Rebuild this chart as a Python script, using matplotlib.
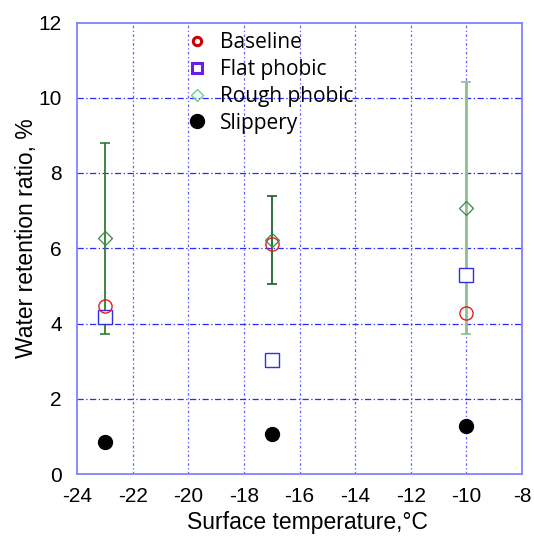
import numpy as np
import matplotlib.pyplot as plt
from matplotlib.lines import Line2D

temps = [-23, -17, -10]
baseline = [4.47, 6.12, 4.29]
flat_phobic = [4.18, 3.03, 5.29]
rough_phobic = [6.27, 6.22, 7.08]
rough_low = [3.72, 5.06, 3.72]
rough_high = [8.79, 7.40, 10.42]
slippery = [0.85, 1.06, 1.28]

plt.rcParams['font.family'] = ['Liberation Sans', 'DejaVu Sans']
plt.rcParams['axes.unicode_minus'] = False

fig = plt.figure(figsize=(5.34, 5.38), dpi=100)
ax = fig.add_axes([77 / 534, 1 - 474 / 538, 445 / 534, 451.5 / 538])

grid_c = '#2a2aff'
for yv in range(2, 12, 2):
    ax.axhline(yv, color=grid_c, lw=0.9, ls=(0, (5, 2, 1, 2)), zorder=0)
for xv in range(-22, -8, 2):
    ax.axvline(xv, color=grid_c, lw=0.9, ls=(0, (2, 2, 1, 2)), alpha=0.75, zorder=0)

# error bars on rough phobic, each a little different green
err_cols = ['#2e7d32', '#1f5f2a', '#8fbf8f']
for i, t in enumerate(temps):
    ax.errorbar([t], [rough_phobic[i]],
                yerr=[[rough_phobic[i] - rough_low[i]], [rough_high[i] - rough_phobic[i]]],
                fmt='none', ecolor=err_cols[i], elinewidth=1.3 if i < 2 else 2,
                capsize=3.5, capthick=1.2, zorder=2)

ax.plot(temps, slippery, 'o', color='black', ms=10, zorder=3)
ax.plot(temps, flat_phobic, 's', mfc='white', mec='#3030e0', mew=1.0, ms=9.5, zorder=3)
ax.plot(temps, baseline, 'o', mfc='none', mec='#e02020', mew=1.0, ms=9.5, zorder=4)
ax.plot(temps, rough_phobic, 'D', mfc='none', mec='#3a8a4a', mew=0.9, ms=7.5, zorder=5)

ax.set_xlim(-24, -8)
ax.set_ylim(0, 12)
ax.set_xticks(np.arange(-24, -7, 2))
ax.set_yticks(np.arange(0, 13, 2))
ax.tick_params(axis='x', length=0, labelsize=15, pad=9)
ax.tick_params(axis='y', length=0, labelsize=15, pad=11)
for s in ax.spines.values():
    s.set_color('#8080ff')
    s.set_linewidth(1.3)

ax.set_xlabel('Surface temperature,°C', fontsize=16.5)
ax.set_ylabel('Water retention ratio, %', fontsize=16.5)
ax.xaxis.set_label_coords(0.518, -0.083)
ax.yaxis.set_label_coords(-0.088, 0.523)

handles = [
    Line2D([], [], ls='none', marker='o', mfc='none', mec='#cc0000', mew=2.2, ms=6),
    Line2D([], [], ls='none', marker='s', mfc='none', mec='#6a1ee8', mew=2.2, ms=7),
    Line2D([], [], ls='none', marker='D', mfc='none', mec='#6ad08a', mew=1.0, ms=6),
    Line2D([], [], ls='none', marker='o', color='black', ms=10),
]
labels = ['Baseline', 'Flat phobic', 'Rough phobic', 'Slippery']
ax.legend(handles, labels, loc='upper left', bbox_to_anchor=(0.19, 1.02),
          frameon=False, handletextpad=0.3, handlelength=1.6, labelspacing=0.28,
          prop={'family': ['Open Sans', 'DejaVu Sans'], 'size': 15})

fig.savefig('out.png', dpi=100)
